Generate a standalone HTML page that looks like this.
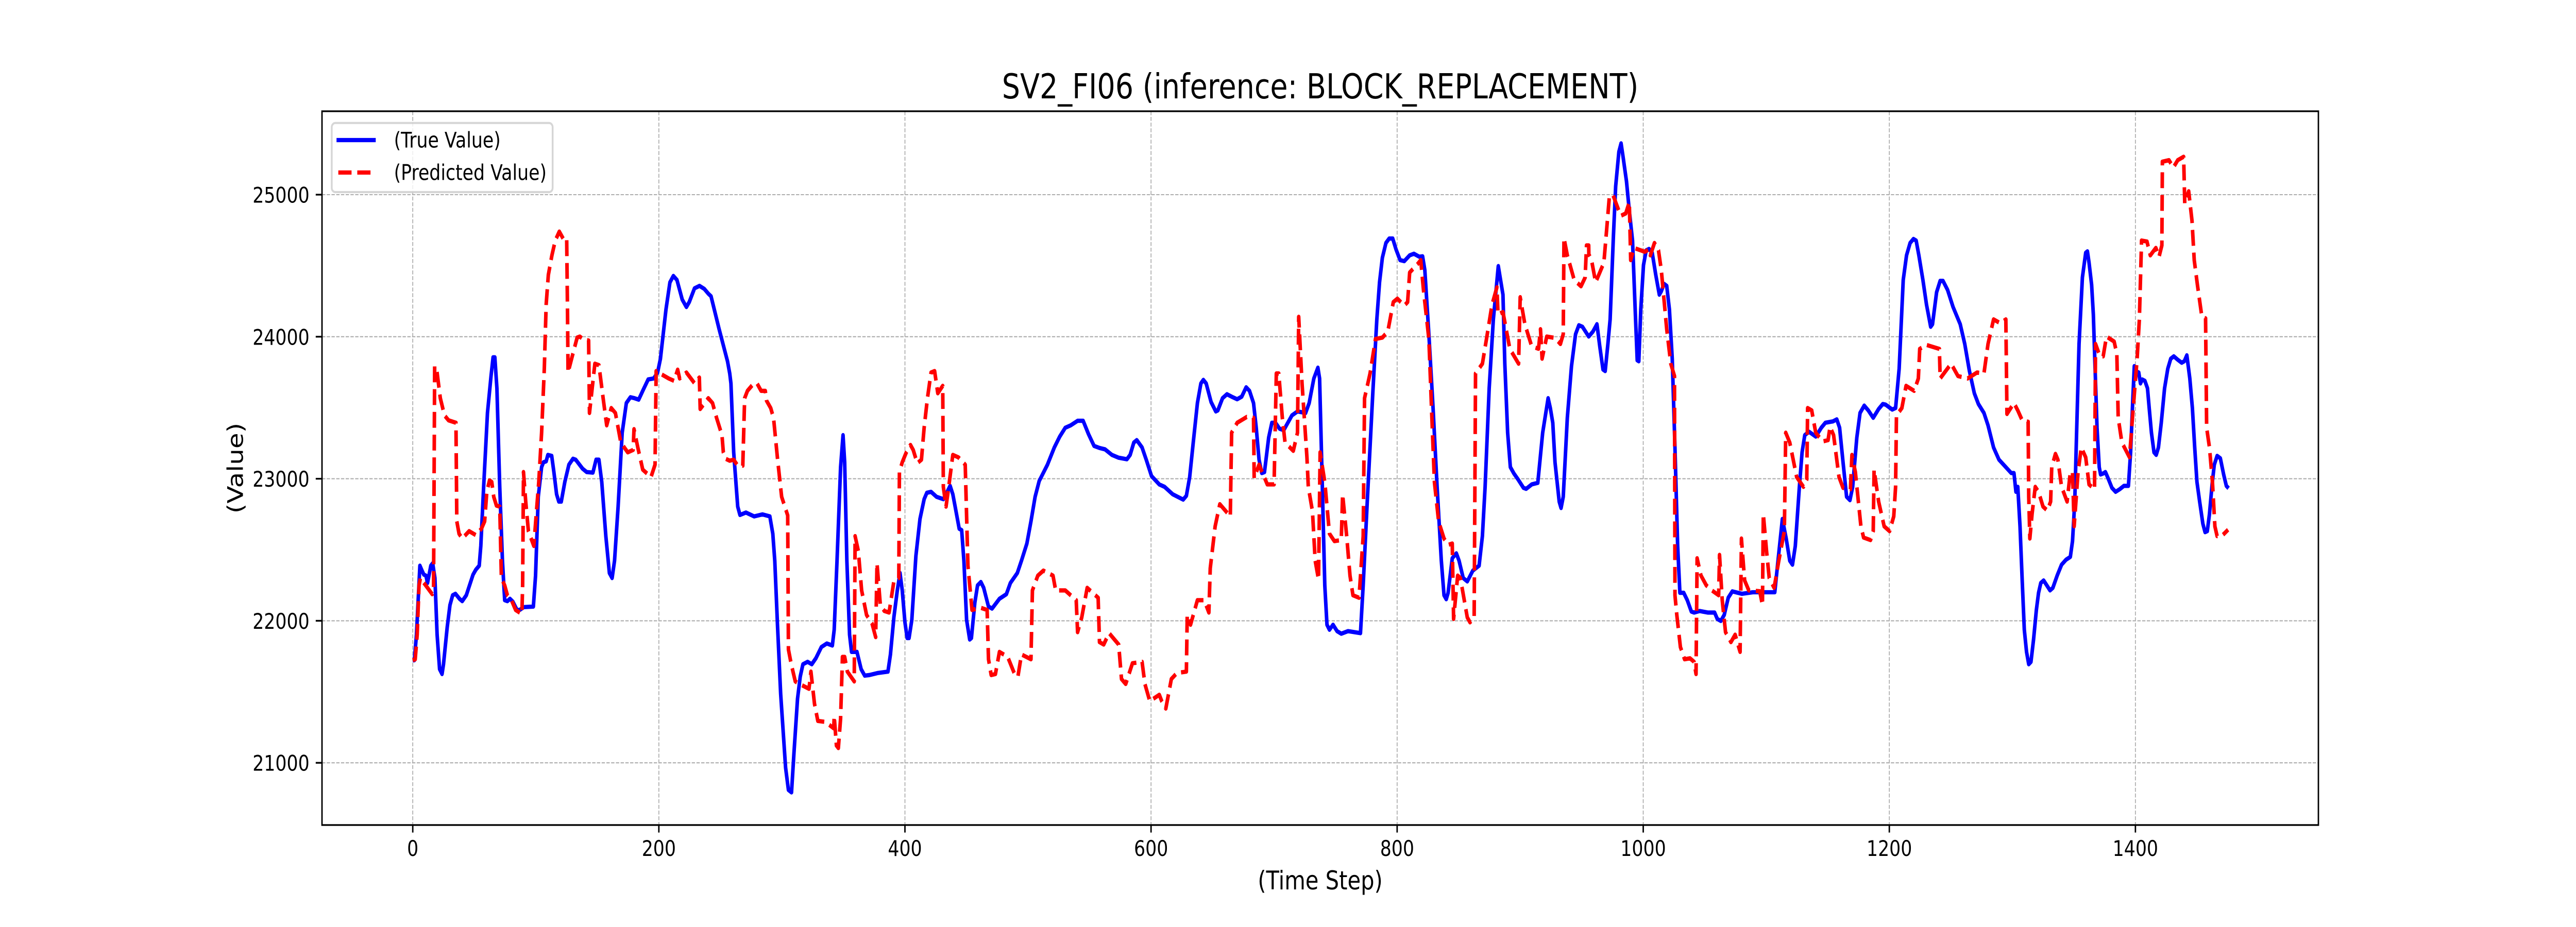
<!DOCTYPE html>
<html lang="en">
<head>
<meta charset="utf-8">
<title>SV2_FI06 (inference: BLOCK_REPLACEMENT)</title>
<style>
html,body{margin:0;padding:0;background:#fff;width:100%;height:100%;overflow:hidden}
svg{display:block;position:fixed;left:0;top:0;width:100vw;height:100vh}
text{font-family:"DejaVu Sans","Liberation Sans",sans-serif;fill:#000}
</style>
</head>
<body>
<svg id="chart" xmlns="http://www.w3.org/2000/svg" viewBox="0 0 6000 1800" preserveAspectRatio="none">
  <rect x="0" y="0" width="6000" height="1800" fill="#ffffff"/>
  <rect x="750" y="216" width="4650" height="1386" fill="#ffffff"/>
  <g id="grid"></g>
  <g id="series"></g>
  <g id="ticks"></g>
  <rect x="750" y="216" width="4650" height="1386" fill="none" stroke="#000" stroke-width="3.33"/>
  <text x="3075" y="191" font-size="66.67" text-anchor="middle">SV2_FI06 (inference: BLOCK_REPLACEMENT)</text>
  <text x="3075" y="1727" font-size="50" text-anchor="middle">(Time Step)</text>
  <text transform="translate(566 909) rotate(-90)" font-size="50" text-anchor="middle">(Value)</text>
  <g>
    <rect x="772.7" y="238.8" width="514.5" height="134.2" rx="8.3" ry="8.3" fill="#ffffff" fill-opacity="0.8" stroke="#cccccc" stroke-opacity="0.8" stroke-width="4.17"/>
    <line x1="788" y1="272" x2="871" y2="272" stroke="#0000ff" stroke-width="8.33" stroke-linecap="square"/>
    <text x="917.5" y="286.5" font-size="41.67">(True Value)</text>
    <line x1="788" y1="335" x2="871" y2="335" stroke="#ff0000" stroke-width="8.33" stroke-dasharray="30.83 13.33"/>
    <text x="917.5" y="349.5" font-size="41.67">(Predicted Value)</text>
  </g>
</svg>
<script>
const xTickValues = [0,200,400,600,800,1000,1200,1400];
const yTickValues = [21000,22000,23000,24000,25000];
const trueSteps = [0,1.3,3,5.8,7.5,9,10.7,12,14.7,16.2,18,19.8,21.8,23.8,25,28,30.2,32.4,34.7,38,40.2,43.5,49,51.3,54,55.3,57.6,60.7,63.6,65.3,66.7,68.4,70.7,72.9,74.7,76.9,79,81.3,84.7,86.9,90.2,98,99.8,102,104.7,106.2,108.4,109.8,112.9,114.7,116.9,118.7,120.7,123.6,126.9,130.2,132.4,138,141.3,146.4,149,151.3,153.6,156.9,159.8,162,164,166.9,170.2,173.6,176.9,180.2,183.6,186.9,191.3,195.8,199,201.3,205.8,209,211.8,214.7,219,222.4,224.7,229,233,236.9,240.2,242.4,249,255.8,257.6,258.6,260.8,264.1,265.9,270.8,277.5,284.2,290.2,292.6,294.2,296.4,299,303,305.3,307.8,309.8,312.7,314.9,317.1,320.9,324.3,327.6,332.1,336.5,341,342.5,344.8,347.7,349.7,351,352.8,355,356.6,361,364.4,367.3,371,377.7,386.2,388.2,391,393.8,396,397.8,400,401.8,403.3,405.6,408.9,412.2,415.6,417.8,421.2,425.6,431.2,433.4,436.7,438.9,440.8,444.1,446.1,447.9,450.1,452.6,454,456.8,459,461.7,464,467.9,470.8,476.8,482.4,485.7,491.3,494.7,499.1,502.4,505.8,509.1,515.8,521.4,525.8,530.3,534.7,540.3,544.8,549.2,553.7,558.1,562.6,568.2,573.7,580.4,583,586,588.4,592.7,596.1,600.4,606.7,611,617.6,626.1,628.7,631.4,634.3,637.7,640.5,642.5,644.8,648.8,652.6,654.3,658.1,661.7,665.5,670,673.7,677.3,680,683.3,685.5,687.8,690,692.2,695.6,698.2,701.1,704.5,707.8,714.5,719,725.6,728.5,732.3,735.6,737,739,741.2,743,745,747.9,751.2,754.6,760.1,770.2,772.4,775.7,780.2,783.5,785.7,788,790.9,793.5,796.4,799.1,802.4,805.8,810.2,813.6,818,820.7,822.5,825.8,829.2,832.5,835.9,838.1,839.9,841.4,844.8,848.1,850.3,853.7,857,861.5,866.6,869.3,871.5,874.8,878.2,882.2,886,887.5,889.8,892,894.9,898.3,902.7,904.9,909.4,914.3,918.3,922.7,924.5,926.5,928.3,931.7,933.2,935,938.3,941.7,945,947.7,950.6,955.7,959.1,962.4,964.7,967.3,969.1,971.3,973.1,975.8,977.6,980.2,982,983.6,986.4,988.7,991.3,993.6,995.1,996.4,998,1000.2,1002.4,1004.7,1007.3,1010.2,1013.1,1014.7,1016.9,1019.1,1021.3,1023.6,1025.8,1028,1029.8,1032.9,1035.8,1039.1,1041.3,1045.8,1052.4,1058,1060.2,1063.1,1065.8,1069.1,1072.4,1080.2,1089.1,1106.9,1109.1,1113.1,1116.2,1119.1,1121.3,1123.6,1126.9,1129.1,1131.3,1134.7,1140.2,1144.7,1148,1154.2,1157.3,1159.6,1162.4,1165.3,1168,1170.2,1173.6,1176.2,1179.6,1182.9,1186.9,1191.3,1194.7,1196.9,1202.4,1205.1,1208,1211.3,1214,1216.9,1219.6,1221.8,1224,1227.3,1230.2,1233.6,1235.1,1238.4,1241.3,1243.6,1247.3,1251.8,1257.6,1261.3,1265.1,1269.1,1272.4,1276.9,1280.2,1284.7,1289.1,1299.1,1301.3,1302.9,1304.4,1306.2,1308,1309.7,1311.5,1313.3,1315.1,1317.2,1319.5,1321.3,1323.1,1325.4,1327.5,1330.6,1332.9,1336.4,1340,1343.6,1347.1,1348.9,1350.7,1352.1,1354.2,1356.9,1359.6,1361,1362.3,1364.4,1365.8,1367.1,1368.8,1370.6,1371.7,1373.8,1375.6,1377.7,1380.9,1383.9,1387.2,1390.7,1394.3,1396.1,1397.9,1399.1,1400.5,1402.7,1404.1,1405.5,1407.7,1409.8,1411.2,1413,1415.1,1416.9,1418.7,1421,1423.7,1426.3,1428.7,1431.2,1434.4,1437.6,1439.7,1441.8,1444.2,1446.3,1448.2,1450,1452.2,1454.8,1456.6,1458.4,1460.2,1462.3,1464.1,1466.4,1469,1471.7,1473.9,1475.7];
const trueValues = [21722,21722,21902,22388,22353,22325,22318,22266,22388,22405,22301,21902,21659,21625,21694,21954,22110,22180,22190,22155,22138,22180,22325,22360,22388,22527,22943,23463,23723,23855,23855,23637,22943,22423,22145,22138,22155,22135,22076,22076,22096,22100,22318,22873,23082,23116,23123,23168,23161,23047,22891,22839,22839,22978,23099,23141,23134,23071,23047,23043,23134,23134,22978,22596,22336,22301,22423,22804,23324,23533,23574,23567,23557,23619,23699,23706,23748,23845,24192,24383,24428,24400,24261,24209,24244,24341,24358,24337,24303,24285,24053,23827,23741,23671,23186,22804,22745,22762,22735,22749,22735,22613,22423,21972,21486,20966,20809,20792,21070,21451,21607,21694,21711,21694,21736,21815,21840,21826,21937,22423,23082,23307,23116,22423,21902,21781,21781,21659,21614,21618,21632,21642,21763,22024,22214,22336,22214,21989,21878,21878,22006,22457,22717,22856,22901,22908,22873,22856,22891,22950,22891,22804,22648,22638,22423,22006,21868,21878,22128,22249,22273,22232,22100,22086,22155,22187,22266,22336,22423,22544,22700,22873,22984,23099,23220,23297,23359,23376,23408,23408,23314,23231,23217,23207,23168,23148,23137,23168,23255,23272,23220,23134,23019,22960,22943,22891,22853,22880,23012,23255,23533,23671,23696,23671,23540,23474,23481,23567,23595,23578,23560,23578,23644,23619,23533,23359,23134,23040,23047,23290,23394,23394,23352,23342,23446,23474,23463,23533,23706,23782,23706,23012,22249,21972,21937,21972,21927,21909,21927,21913,22249,22839,23602,24122,24383,24556,24660,24691,24691,24615,24539,24532,24573,24584,24563,24566,24469,24018,23498,22943,22423,22180,22152,22197,22440,22475,22423,22301,22277,22353,22388,22596,22943,23637,24122,24497,24296,23810,23324,23082,23037,22995,22936,22929,22960,22971,23324,23567,23498,23394,23116,22839,22794,22873,23429,23793,24018,24081,24070,24001,24036,24088,23932,23769,23758,23949,24122,24712,25059,25302,25361,25267,25094,24886,24677,24157,23834,23827,24192,24504,24608,24618,24591,24435,24296,24320,24372,24358,24192,23845,23220,22527,22197,22197,22145,22065,22058,22069,22058,22058,22013,21999,22041,22162,22207,22190,22201,22201,22388,22717,22579,22423,22395,22527,22943,23186,23307,23331,23297,23359,23394,23404,23418,23359,23116,22873,22849,22943,23290,23463,23515,23481,23429,23491,23526,23522,23487,23498,23775,24400,24573,24660,24688,24677,24573,24400,24226,24070,24088,24313,24393,24393,24330,24209,24088,23949,23758,23602,23526,23463,23376,23220,23134,23040,23040,22908,22943,22665,22284,21937,21781,21694,21711,21867,22076,22197,22266,22284,22256,22214,22232,22318,22395,22430,22450,22561,22839,23290,23949,24417,24591,24601,24521,24365,24157,23810,23359,23082,23030,23037,23047,23005,22936,22908,22926,22950,22950,23186,23567,23793,23758,23748,23671,23699,23689,23637,23498,23324,23186,23168,23220,23394,23637,23775,23845,23862,23838,23817,23827,23869,23706,23498,23220,22978,22839,22683,22624,22631,22752,22960,23099,23161,23144,23030,22950,22933];
const predSteps = [0,2,3.6,5.1,6.2,9.1,12,15.8,16.9,17.3,17.8,19.6,22.4,25.8,29.1,35.1,35.8,37.6,40.2,45.8,51.3,55.8,58.4,60.2,62.4,64.2,65.8,68,70.7,72,74.7,76.9,80.2,83.6,88.7,89.3,90,91.8,94,98.4,100.2,102.4,104.7,106.9,108.4,110.2,113.1,115.8,119.1,122.4,125.1,125.8,126.2,129.1,133.6,135.8,139.1,142.9,143.6,145.8,148,151.3,154.7,157.6,161.3,164.7,169.1,174.7,179.1,179.8,182.9,186.9,193.6,196.9,197.8,202.4,208,212.4,215.3,216.9,222.4,229.1,232.9,233.6,240.2,243.6,246.9,251.3,252.4,254.2,257.6,260.8,264.1,268.2,269.7,272,276.4,279.8,283.1,286.5,287.5,290.9,293.2,296.5,299.8,304.7,305.3,307.6,310.9,314.3,322,323.6,326.5,329.2,335.4,342.1,342.5,344.3,345.9,347.7,349.2,351,353.2,358.8,359.5,362.1,364.8,368.8,373.3,376.2,377.3,380,383.3,387.1,391.1,395,395.5,397.8,401.1,404.5,406.7,410,413.4,415.6,418.3,421.2,424.1,426.7,430.7,431.2,433.4,435.6,438.9,443.4,449,451.2,454.5,461.2,466.8,467.9,470.1,473.5,476.8,483.5,489.1,491.8,494.7,502.4,503.6,508,512.5,520.3,522.5,530.3,539.2,540.3,543.7,548.1,557,558.1,561.5,565.9,573.7,576,579.4,584.9,592.7,595,599,606.7,608.7,612,616.5,621,628.7,629.4,632.1,637.7,643.2,647,648.1,652.1,655.9,664.4,665.5,670,677.8,683.3,683.8,687.8,694.5,700,701.8,703.8,706.7,708.9,715.6,719,720,722.7,726.7,727.8,731.2,733.4,736.1,737.4,741.2,745,749,754.6,755.7,759,761.7,764.1,769,772.4,773.5,778,782.4,788,792.4,796.9,800.2,805.8,808.5,810.2,816.9,819.2,821.4,825.8,828.1,830.3,833.7,838.1,841.4,844.8,845.9,849.2,851.4,857,859.2,862.6,863.7,869.3,872.6,877.1,881.1,882,886,891.6,898.7,900,903.8,909.4,914.9,916.5,917.8,921.6,928.3,932.7,935,935.6,938.3,943.9,949.4,952.8,953.9,955.7,955.8,958,961.3,964.7,968,970.2,972.4,975.3,978,981.8,985.8,988.7,989.8,992.4,998,1001.3,1004.7,1005.8,1009.1,1012.4,1014.7,1019.1,1022.4,1025.4,1025.6,1025.8,1027.3,1030.2,1033.6,1038,1041.3,1042.9,1043.8,1046.9,1051.3,1055.8,1061.3,1062,1064.2,1066.9,1071.3,1074.7,1078.7,1079.8,1082.4,1085.8,1094.7,1096.9,1097.6,1100.2,1102.4,1106.4,1110.2,1114.7,1115.8,1119.1,1124.7,1130.2,1132.9,1133.6,1136.9,1140.2,1145.8,1150.2,1151.8,1154.7,1159.1,1162.4,1168.4,1169.6,1172.4,1176.9,1179.1,1184.7,1186.9,1187.6,1191.3,1195.8,1200.2,1203.6,1205.1,1205.8,1210.2,1213.6,1220.2,1223.6,1224.7,1230.2,1240.7,1241.3,1250.2,1255.8,1263.6,1271.3,1276.9,1280.2,1284.7,1290.2,1294.7,1295.6,1301.3,1304.4,1308,1312.8,1313.3,1314.2,1316,1318.6,1321.3,1324.9,1328.4,1331.1,1332,1335,1337,1340,1344.5,1347.1,1348.9,1350.2,1353.4,1356,1359.6,1362.3,1366.8,1367.6,1371.2,1373.8,1376.5,1382.7,1384.9,1386,1389,1395.2,1397.9,1401.4,1403.2,1405,1409.4,1412.1,1416.6,1419.2,1421.5,1421.9,1427.3,1430.8,1434.4,1439.2,1440.1,1443.3,1446,1447.8,1450.4,1454,1457,1457.9,1460.2,1462.6,1464.6,1466.4,1470.9,1475.3];
const predValues = [21722,21729,21902,22249,22301,22266,22232,22187,22214,22943,23793,23758,23567,23446,23411,23394,22700,22613,22579,22631,22603,22648,22700,22908,22988,22977,22873,22811,22804,22301,22249,22180,22145,22076,22048,22249,23047,22839,22631,22527,22735,22978,23324,23775,24226,24435,24573,24677,24740,24688,24695,24157,23748,23845,23994,24001,23977,23973,23463,23637,23810,23800,23567,23376,23498,23463,23255,23186,23203,23349,23220,23064,23012,23099,23758,23734,23706,23689,23768,23706,23748,23671,23713,23491,23567,23533,23429,23307,23186,23141,23127,23134,23092,23092,23567,23619,23664,23671,23619,23619,23550,23498,23429,23134,22873,22742,21798,21694,21573,21555,21521,21642,21416,21295,21288,21243,21330,21122,21104,21312,21746,21746,21642,21573,22596,22492,22214,22041,21979,21885,22405,22110,22069,22058,22284,22301,23047,23116,23186,23238,23203,23109,23134,23359,23567,23748,23758,23602,23654,22943,22804,22943,23168,23151,23099,22388,22076,22093,22076,21729,21618,21625,21781,21746,21625,21607,21763,21729,22214,22318,22353,22318,22214,22214,22145,21920,22024,22232,22162,21850,21833,21913,21833,21590,21555,21701,21711,21555,21434,21479,21434,21382,21590,21632,21642,22041,21972,22145,22145,22058,22370,22665,22821,22735,23324,23394,23435,23429,23005,23099,22960,22960,23741,23741,23429,23255,23196,23324,24140,23671,23151,22943,22770,22423,22291,23186,22978,22613,22561,22568,22891,22596,22318,22180,22162,22596,23567,23741,23984,23994,24036,24244,24268,24219,24244,24452,24514,24539,24330,23984,23463,22978,22700,22579,22534,22544,22013,22318,22301,22024,21989,22024,23741,23810,23984,24226,24348,24157,24174,23914,23810,24278,24088,23932,23915,24053,23845,24001,23991,23949,24018,24695,24573,24400,24355,24417,24643,24643,24580,24539,24383,24452,24521,24747,24979,25000,24938,24851,24868,24948,24539,24625,24608,24598,24615,24573,24660,24608,24469,24053,23810,23723,22943,22180,22041,21815,21729,21736,21711,21625,22440,22319,22249,22214,22180,22464,22145,21920,21850,21902,21781,22579,22284,22214,22208,22110,22752,22492,22301,22232,22423,22631,23324,23255,23012,22943,22995,23498,23481,23324,23262,23272,23366,23307,23012,22936,22926,23168,23047,22665,22586,22568,22631,23064,22839,22665,22631,22735,22943,23446,23498,23654,23619,23706,23914,23942,23914,23706,23810,23723,23706,23748,23741,23949,24122,24095,24122,23456,23533,23481,23411,23401,22873,22579,22752,22943,22908,22804,22776,22839,23082,23175,23134,22943,22839,23047,23047,22665,23047,23220,23151,22960,22926,23949,23862,23862,24001,23966,23880,23429,23255,23151,23463,23845,24122,24677,24670,24573,24625,24563,24643,25232,25243,25191,25243,25267,24938,25024,24816,24539,24365,24140,24129,23359,23220,22978,22665,22596,22603,22641];

const NS = 'http://www.w3.org/2000/svg';
const plotLeft = 750, plotRight = 5400, plotTop = 216, plotBottom = 1602;
function xScale(step) { return 961.4 + step * 2.866; }
function yScale(value) { return 378 + (25000 - value) * 0.2758; }

const gridGroup = document.getElementById('grid');
const tickGroup = document.getElementById('ticks');
const seriesGroup = document.getElementById('series');

function makeLine(x1, y1, x2, y2, stroke, width, dash) {
  const ln = document.createElementNS(NS, 'line');
  ln.setAttribute('x1', x1);
  ln.setAttribute('y1', y1);
  ln.setAttribute('x2', x2);
  ln.setAttribute('y2', y2);
  ln.setAttribute('stroke', stroke);
  ln.setAttribute('stroke-width', width);
  if (dash) ln.setAttribute('stroke-dasharray', dash);
  return ln;
}
function makeLabel(x, y, content, anchor) {
  const t = document.createElementNS(NS, 'text');
  t.setAttribute('x', x);
  t.setAttribute('y', y);
  t.setAttribute('font-size', '41.67');
  t.setAttribute('text-anchor', anchor);
  t.textContent = content;
  return t;
}

xTickValues.forEach(function (v) {
  const px = xScale(v);
  const g = makeLine(px, plotTop, px, plotBottom, '#adadad', 2.08, '7.71 3.33');
  
  
  gridGroup.appendChild(g);
  const t = makeLine(px, plotBottom, px, plotBottom + 14.6, '#000', 3.33);
  
  
  tickGroup.appendChild(t);
  const l = makeLabel(px, 1662, String(v), 'middle');
  
  
  tickGroup.appendChild(l);
});
yTickValues.forEach(function (v) {
  const py = yScale(v);
  const g = makeLine(plotLeft, py, plotRight, py, '#adadad', 2.08, '7.71 3.33');
  
  
  gridGroup.appendChild(g);
  const t = makeLine(plotLeft - 14.6, py, plotLeft, py, '#000', 3.33);
  
  
  tickGroup.appendChild(t);
  const l = makeLabel(720.8, py + 15.5, String(v), 'end');
  
  
  tickGroup.appendChild(l);
});

function makeSeries(steps, values, stroke, dash) {
  const p = document.createElementNS(NS, 'polyline');
  const pts = steps.map(function (s, i) {
    return xScale(s).toFixed(1) + ',' + yScale(values[i]).toFixed(1);
  });
  p.setAttribute('points', pts.join(' '));
  p.setAttribute('fill', 'none');
  p.setAttribute('stroke', stroke);
  p.setAttribute('stroke-width', '8.33');
  p.setAttribute('stroke-linejoin', 'round');
  if (dash) p.setAttribute('stroke-dasharray', dash);
  return p;
}
const trueLine = makeSeries(trueSteps, trueValues, '#0000ff', null);


seriesGroup.appendChild(trueLine);
const predLine = makeSeries(predSteps, predValues, '#ff0000', '30.83 13.33');


seriesGroup.appendChild(predLine);
</script>
</body>
</html>
